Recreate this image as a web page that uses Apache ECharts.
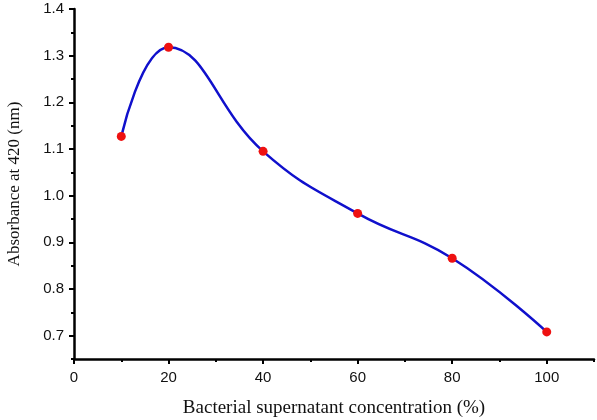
<!DOCTYPE html>
<html><head><meta charset="utf-8">
<script src="https://cdn.jsdelivr.net/npm/echarts@6/dist/echarts.min.js"></script>
<style>html,body{margin:0;padding:0;background:#fff}#c{width:597px;height:420px}</style>
</head><body><div id="c"></div>
<script>
const concentrations = [10, 20, 40, 60, 80, 100];
const absorbance = [1.127, 1.318, 1.095, 0.962, 0.866, 0.708];
const xTickLabels = [0, 20, 40, 60, 80, 100];
const yTickLabels = [0.7, 0.8, 0.9, 1.0, 1.1, 1.2, 1.3, 1.4];

const chart = echarts.init(document.getElementById('c'));
const axisFont = {fontFamily: 'Liberation Sans', fontSize: 15, color: '#111'};
chart.setOption({
  animation: false,
  grid: {left: 74, top: 9, right: 3, bottom: 61, outerBoundsMode: 'none', containLabel: false},
  xAxis: [{
    type: 'value', min: 0, max: 110, interval: 10,
    axisLine: {lineStyle: {color: '#000', width: 2.5}},
    axisTick: {customValues: xTickLabels, length: 5, lineStyle: {width: 2, color: '#000'}},
    axisLabel: {customValues: xTickLabels, margin: 11, ...axisFont},
    splitLine: {show: false},
    name: 'Bacterial supernatant concentration (%)', nameLocation: 'middle', nameGap: 40,
    nameTextStyle: {fontFamily: 'Liberation Serif', fontSize: 19, color: '#111'}
  }, {
    type: 'value', min: 0, max: 110, interval: 10, position: 'bottom',
    axisLine: {show: false},
    axisTick: {length: 3, lineStyle: {width: 2, color: '#000'}},
    axisLabel: {show: false}, splitLine: {show: false}
  }],
  yAxis: [{
    type: 'value', min: 0.65, max: 1.4,
    axisLine: {show: true, lineStyle: {color: '#000', width: 2.5}},
    axisTick: {show: true, customValues: yTickLabels, length: 5, lineStyle: {width: 2, color: '#000'}},
    axisLabel: {customValues: yTickLabels, margin: 10, formatter: v => v.toFixed(1), ...axisFont},
    splitLine: {show: false},
    name: 'Absorbance at 420 (nm)', nameLocation: 'middle', nameGap: 51,
    nameTextStyle: {fontFamily: 'Liberation Serif', fontSize: 17, color: '#111'}
  }, {
    type: 'value', min: 0.65, max: 1.4, interval: 0.05, position: 'left',
    axisLine: {show: false},
    axisTick: {show: true, length: 3, lineStyle: {width: 2, color: '#000'}},
    axisLabel: {show: false}, splitLine: {show: false}
  }],
  series: [{
    type: 'line', smooth: 0.45,
    data: concentrations.map((x, i) => [x, absorbance[i]]),
    lineStyle: {color: '#1010cc', width: 2.5},
    symbol: 'circle', symbolSize: 9,
    itemStyle: {color: '#ee1111', borderWidth: 0}
  }]
});
</script></body></html>
